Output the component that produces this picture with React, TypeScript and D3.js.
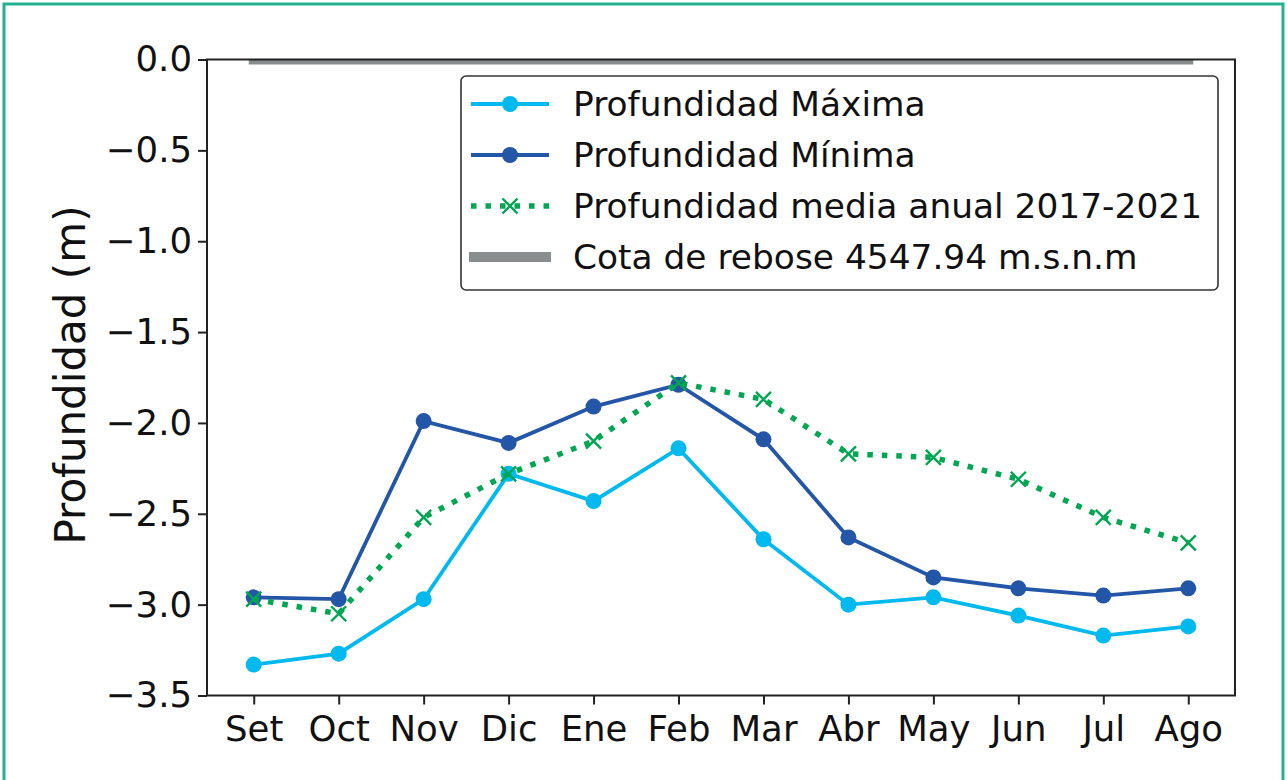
import React, { useRef, useEffect } from "react";
import * as d3 from "d3";

const months = ["Set", "Oct", "Nov", "Dic", "Ene", "Feb", "Mar", "Abr", "May", "Jun", "Jul", "Ago"];
const profMax = [-3.33, -3.27, -2.97, -2.28, -2.43, -2.14, -2.64, -3.0, -2.96, -3.06, -3.17, -3.12];
const profMin = [-2.96, -2.97, -1.99, -2.11, -1.91, -1.79, -2.09, -2.63, -2.85, -2.91, -2.95, -2.91];
const profMedia = [-2.97, -3.05, -2.52, -2.28, -2.1, -1.78, -1.87, -2.17, -2.19, -2.31, -2.52, -2.66];
const cotaRebose = 0;
const yTicks = [0, -0.5, -1.0, -1.5, -2.0, -2.5, -3.0, -3.5];

const W = 1287;
const H = 780;
const M = { left: 207, right: 1235, top: 59.5, bottom: 695.5 };

const C_MAX = "#00b9ef";
const C_MIN = "#2456a8";
const C_MED = "#00a651";
const C_GRAY = "#8a8d8e";
const FONT = "DejaVu Sans, sans-serif";

const App: React.FC = () => {
  const svgRef = useRef<SVGSVGElement>(null);

  useEffect(() => {
    if (!svgRef.current) return;
    const svg = d3.select(svgRef.current);
    svg.selectAll("*").remove();

    // outer frame
    svg
      .append("rect")
      .attr("x", 4)
      .attr("y", 4)
      .attr("width", W - 8)
      .attr("height", H + 20)
      .attr("fill", "#fff")
      .attr("stroke", "#22b28f")
      .attr("stroke-width", 3);

    const n = months.length;
    const x = d3
      .scaleLinear()
      .domain([-0.55, n - 1 + 0.55])
      .range([M.left, M.right]);
    const y = d3.scaleLinear().domain([-3.5, 0]).range([M.bottom, M.top]);

    svg
      .append("defs")
      .append("clipPath")
      .attr("id", "plotclip")
      .append("rect")
      .attr("x", M.left)
      .attr("y", M.top)
      .attr("width", M.right - M.left)
      .attr("height", M.bottom - M.top);

    const plot = svg.append("g").attr("clip-path", "url(#plotclip)");

    // overflow level line
    plot
      .append("line")
      .attr("x1", x(0))
      .attr("x2", x(n - 1))
      .attr("y1", y(cotaRebose))
      .attr("y2", y(cotaRebose))
      .attr("stroke", C_GRAY)
      .attr("stroke-width", 10)
      .attr("stroke-linecap", "square");

    const line = d3
      .line<number>()
      .x((_, i) => x(i))
      .y((d) => y(d));

    // max
    plot
      .append("path")
      .attr("d", line(profMax))
      .attr("fill", "none")
      .attr("stroke", C_MAX)
      .attr("stroke-width", 3.8);
    plot
      .selectAll(".dmax")
      .data(profMax)
      .join("circle")
      .attr("cx", (_, i) => x(i))
      .attr("cy", (d) => y(d))
      .attr("r", 8)
      .attr("fill", C_MAX);

    // min
    plot
      .append("path")
      .attr("d", line(profMin))
      .attr("fill", "none")
      .attr("stroke", C_MIN)
      .attr("stroke-width", 3.8);
    plot
      .selectAll(".dmin")
      .data(profMin)
      .join("circle")
      .attr("cx", (_, i) => x(i))
      .attr("cy", (d) => y(d))
      .attr("r", 8)
      .attr("fill", C_MIN);

    // media
    plot
      .append("path")
      .attr("d", line(profMedia))
      .attr("fill", "none")
      .attr("stroke", C_MED)
      .attr("stroke-width", 5.5)
      .attr("stroke-dasharray", "5.5 9");
    const xs = 7.5;
    plot
      .selectAll(".dmed")
      .data(profMedia)
      .join("path")
      .attr("transform", (d, i) => `translate(${x(i)},${y(d)})`)
      .attr("d", `M${-xs},${-xs}L${xs},${xs}M${-xs},${xs}L${xs},${-xs}`)
      .attr("stroke", C_MED)
      .attr("stroke-width", 2.4)
      .attr("fill", "none");

    // axes
    const xAxis = svg
      .append("g")
      .attr("transform", `translate(0,${M.bottom})`)
      .call(
        d3
          .axisBottom(x)
          .tickValues(d3.range(n))
          .tickFormat((d) => months[d as number])
          .tickSize(9)
          .tickSizeOuter(0)
          .tickPadding(6)
      );
    xAxis.select(".domain").remove();
    xAxis.selectAll("line").attr("stroke", "#222").attr("stroke-width", 2);
    xAxis
      .selectAll("text")
      .attr("fill", "#111")
      .style("font-family", FONT)
      .style("font-size", "35.5px")
      .attr("dy", "0.85em");

    const yAxis = svg
      .append("g")
      .attr("transform", `translate(${M.left},0)`)
      .call(
        d3
          .axisLeft(y)
          .tickValues(yTicks)
          .tickFormat((d) => d3.format(".1f")(d as number).replace("-", "\u2212"))
          .tickSize(9)
          .tickSizeOuter(0)
          .tickPadding(6)
      );
    yAxis.select(".domain").remove();
    yAxis.selectAll("line").attr("stroke", "#222").attr("stroke-width", 2);
    yAxis
      .selectAll("text")
      .attr("fill", "#111")
      .style("font-family", FONT)
      .style("font-size", "35.5px");

    svg
      .append("rect")
      .attr("x", M.left)
      .attr("y", M.top)
      .attr("width", M.right - M.left)
      .attr("height", M.bottom - M.top)
      .attr("fill", "none")
      .attr("stroke", "#222")
      .attr("stroke-width", 2);

    svg
      .append("text")
      .attr("transform", `translate(70,375) rotate(-90)`)
      .attr("text-anchor", "middle")
      .attr("dy", "0.36em")
      .style("font-family", FONT)
      .style("font-size", "42px")
      .attr("fill", "#111")
      .text("Profundidad (m)");

    // legend
    const lg = svg.append("g");
    lg.append("rect")
      .attr("x", 461)
      .attr("y", 76)
      .attr("width", 757)
      .attr("height", 214)
      .attr("rx", 5)
      .attr("fill", "#fff")
      .attr("fill-opacity", 0.85)
      .attr("stroke", "#333")
      .attr("stroke-width", 1.6);

    const items = [
      { label: "Profundidad Máxima", kind: "max" },
      { label: "Profundidad Mínima", kind: "min" },
      { label: "Profundidad media anual 2017-2021", kind: "med" },
      { label: "Cota de rebose 4547.94 m.s.n.m", kind: "gray" },
    ];
    const rowY = (i: number) => 104 + i * 51;
    const hx1 = 471;
    const hx2 = 549;
    const hc = (hx1 + hx2) / 2;
    items.forEach((it, i) => {
      const yy = rowY(i);
      const g = lg.append("g");
      if (it.kind === "max" || it.kind === "min") {
        const c = it.kind === "max" ? C_MAX : C_MIN;
        g.append("line")
          .attr("x1", hx1)
          .attr("x2", hx2)
          .attr("y1", yy)
          .attr("y2", yy)
          .attr("stroke", c)
          .attr("stroke-width", 3.8);
        g.append("circle").attr("cx", hc).attr("cy", yy).attr("r", 8).attr("fill", c);
      } else if (it.kind === "med") {
        g.append("line")
          .attr("x1", hx1)
          .attr("x2", hx2)
          .attr("y1", yy)
          .attr("y2", yy)
          .attr("stroke", C_MED)
          .attr("stroke-width", 5.5)
          .attr("stroke-dasharray", "5.5 9");
        g.append("path")
          .attr("transform", `translate(${hc},${yy})`)
          .attr("d", `M${-xs},${-xs}L${xs},${xs}M${-xs},${xs}L${xs},${-xs}`)
          .attr("stroke", C_MED)
          .attr("stroke-width", 2.4);
      } else {
        g.append("line")
          .attr("x1", hx1 - 2)
          .attr("x2", hx2 + 2)
          .attr("y1", yy)
          .attr("y2", yy)
          .attr("stroke", C_GRAY)
          .attr("stroke-width", 10);
      }
      g.append("text")
        .attr("x", 573)
        .attr("y", yy)
        .attr("dy", "0.36em")
        .style("font-family", FONT)
        .style("font-size", "34.4px")
        .attr("fill", "#111")
        .text(it.label);
    });
  }, []);

  return (
    <svg
      ref={svgRef}
      width={W}
      height={H}
      style={{ position: "absolute", left: 0, top: 0, background: "#fff" }}
    />
  );
};

export default App;
